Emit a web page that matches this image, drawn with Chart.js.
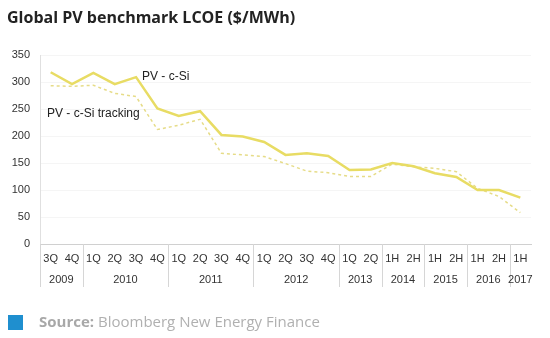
<!DOCTYPE html>
<html>
<head>
<meta charset="utf-8">
<script src="https://cdn.jsdelivr.net/npm/chart.js@4/dist/chart.umd.min.js"></script>
<style>
  html, body { margin: 0; padding: 0; background: #fff; }
  #wrap { position: relative; width: 550px; height: 338px; }
</style>
</head>
<body>
<div id="wrap"><canvas id="lcoeChart" width="550" height="338"></canvas></div>
<script>
// Period labels (bottom row) and year groups (second row)
const periods = ['3Q', '4Q', '1Q', '2Q', '3Q', '4Q', '1Q', '2Q', '3Q', '4Q', '1Q', '2Q', '3Q', '4Q',
  '1Q', '2Q', '1H', '2H', '1H', '2H', '1H', '2H', '1H'];
const years = ['2009', '2010', '2011', '2012', '2013', '2014', '2015', '2016', '2017'];
const yearSpans = [2, 4, 4, 4, 2, 2, 2, 2, 1];

// $/MWh
const cSi = [318, 296, 317, 296, 309, 251, 237, 246, 202, 199, 189, 165, 168, 163,
  137, 138, 150, 144, 131, 124, 100, 100, 86];
const cSiTracking = [293, 292, 294, 279, 273, 212, 220, 231, 168, 165, 162, 149, 135, 132,
  125, 125, 148, 143, 140, 134, 103, 88, 58];

const yTicks = [0, 50, 100, 150, 200, 250, 300, 350];

const FONT = '"Liberation Sans", Arial, Helvetica, sans-serif';

// Draws the title, year row, group separators, line labels and source note
const decorations = {
  id: 'decorations',
  afterDraw(chart) {
    const ctx = chart.ctx;
    const x = chart.scales.x;
    const area = chart.chartArea;
    ctx.save();

    // title
    ctx.fillStyle = '#222';
    ctx.font = 'bold 16px "Open Sans", ' + FONT;
    ctx.textBaseline = 'middle';
    ctx.textAlign = 'left';
    ctx.fillText('Global PV benchmark LCOE ($/MWh)', 7, 18);

    // year groups
    ctx.strokeStyle = '#d6d6d6';
    ctx.lineWidth = 1;
    ctx.fillStyle = '#333';
    ctx.font = '11px ' + FONT;
    ctx.textAlign = 'center';
    const step = x.getPixelForValue(1) - x.getPixelForValue(0);
    let start = 0;
    yearSpans.forEach((span, i) => {
      const left = x.getPixelForValue(start) - step / 2;
      const end = start + span - 1;
      const mid = (x.getPixelForValue(start) + x.getPixelForValue(end)) / 2;
      ctx.beginPath();
      ctx.moveTo(Math.round(left) + 0.5, area.bottom);
      ctx.lineTo(Math.round(left) + 0.5, 287);
      ctx.stroke();
      ctx.fillText(years[i], mid, 280);
      start += span;
    });

    // line labels
    ctx.fillStyle = '#222';
    ctx.font = '12px ' + FONT;
    ctx.textAlign = 'left';
    ctx.fillText('PV - c-Si', 142, 77);
    ctx.fillText('PV - c-Si tracking', 47, 114);

    // source
    ctx.fillStyle = '#1f8fcf';
    ctx.fillRect(8, 315, 15, 15);
    ctx.font = 'bold 15px "Open Sans", ' + FONT;
    ctx.fillStyle = '#a8a8a8';
    ctx.fillText('Source:', 39, 323);
    const w = ctx.measureText('Source: ').width;
    ctx.font = '15px "Open Sans", ' + FONT;
    ctx.fillStyle = '#b0b0b0';
    ctx.fillText('Bloomberg New Energy Finance', 39 + w, 323);

    ctx.restore();
  }
};

new Chart(document.getElementById('lcoeChart'), {
  type: 'line',
  data: {
    labels: periods,
    datasets: [
      {
        label: 'PV - c-Si',
        data: cSi,
        borderColor: '#e8dc64',
        borderWidth: 2.5,
        pointRadius: 0,
        tension: 0,
        fill: false
      },
      {
        label: 'PV - c-Si tracking',
        data: cSiTracking,
        borderColor: '#e6dc88',
        borderWidth: 1.5,
        borderDash: [3, 3],
        pointRadius: 0,
        tension: 0,
        fill: false
      }
    ]
  },
  options: {
    responsive: false,
    animation: false,
    layout: { padding: { left: 0, top: 55, right: 19, bottom: 0 } },
    plugins: {
      legend: { display: false },
      tooltip: { enabled: false }
    },
    scales: {
      x: {
        offset: true,
        grid: { display: false, drawTicks: false },
        border: { display: true, color: '#d0d0d0', width: 1 },
        ticks: {
          color: '#333',
          font: { size: 11, family: FONT },
          padding: 8,
          maxRotation: 0,
          autoSkip: false
        },
        afterFit(scale) { scale.height = 94; }
      },
      y: {
        min: 0,
        max: 350,
        afterBuildTicks(scale) { scale.ticks = yTicks.map(v => ({ value: v })); },
        grid: { color: 'rgba(0,0,0,0.04)', drawTicks: false },
        border: { display: true, color: '#e0e0e0', width: 1 },
        ticks: {
          color: '#333',
          font: { size: 11, family: FONT },
          padding: 10
        },
        afterFit(scale) { scale.width = 40; }
      }
    }
  },
  plugins: [decorations]
});
</script>
</body>
</html>
